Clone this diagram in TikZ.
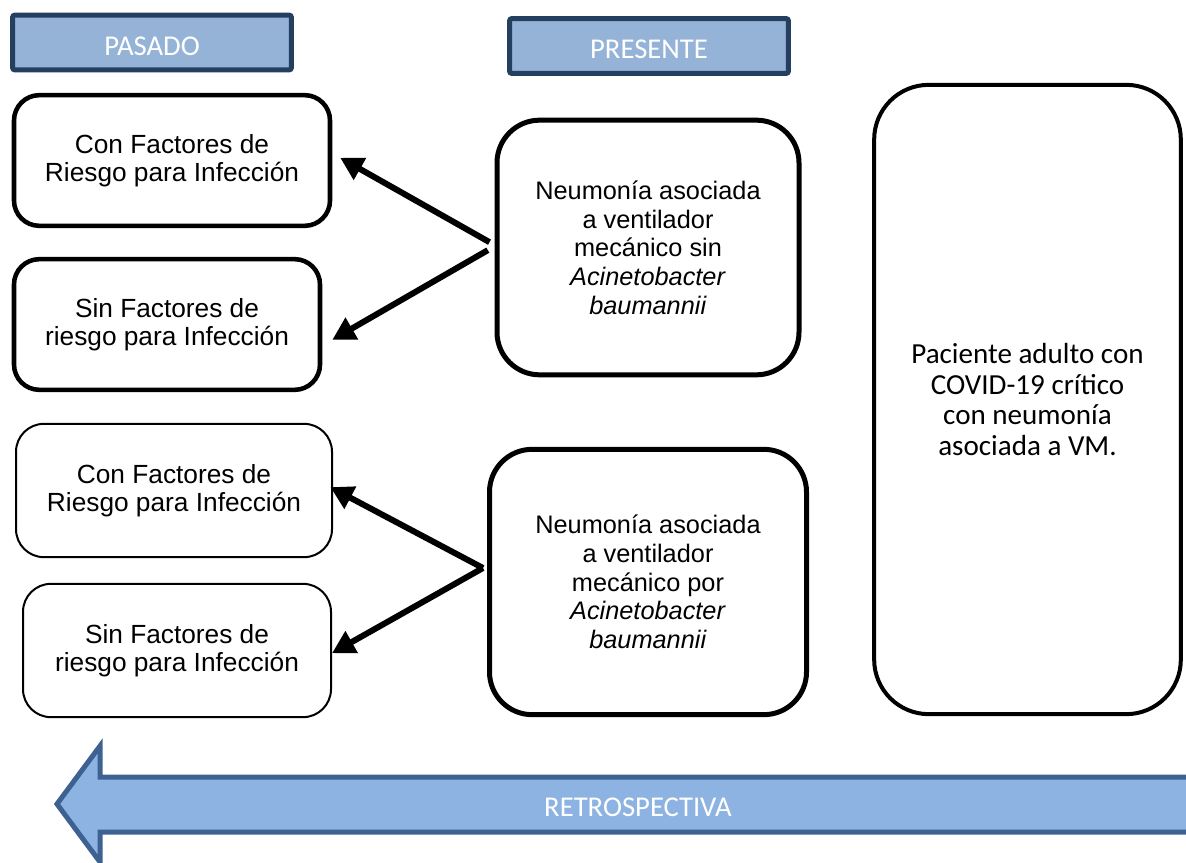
\documentclass[tikz,border=0pt]{standalone}
\usepackage{fontspec}
\setmainfont{Liberation Sans}
\newfontfamily\calibri{Carlito}
\usetikzlibrary{arrows.meta}
\definecolor{azulcab}{HTML}{95B3D7}
\definecolor{bordecab}{HTML}{243F60}
\definecolor{azulflecha}{HTML}{8DB3E2}
\definecolor{bordeflecha}{HTML}{3D6191}
\tikzset{
  cab/.style={draw=bordecab, line width=3.75pt, fill=azulcab, rounded corners=1.5pt,
    inner sep=0pt, minimum width=209pt, minimum height=41pt, text=white,
    text height=19pt, font=\calibri\fontsize{21.5}{24}\selectfont},
  caja/.style={draw, rounded corners=19pt, line width=3.4pt, inner sep=0pt,
    align=center, font=\fontsize{19.7}{21}\selectfont},
  cajafina/.style={caja, line width=1.5pt, rounded corners=21pt},
  cajamed/.style={caja, line width=3.75pt, rounded corners=32pt,
    font=\fontsize{19}{21.5}\selectfont},
  flecha/.style={line width=4.5pt, -{Triangle[length=17pt,width=18pt]}},
}
\begin{document}
\begin{tikzpicture}[x=0.75pt,y=-0.75pt]
\useasboundingbox (0,0) rectangle (1186,863);
% Headers
\node[cab] (pasado) at (152,42.5) {PASADO};
\node[cab] (presente) at (649,46) {PRESENTE};
% Left column: risk factors
\node[caja, minimum width=237pt, minimum height=98pt] (cfr1) at (172,160.5)
  {Con Factores de\\Riesgo para Infección};
\node[caja, minimum width=229.5pt, minimum height=98pt] (sfr1) at (167,324.5)
  {Sin Factores de\\riesgo para Infección};
\node[cajafina, minimum width=237pt, minimum height=100pt] (cfr2) at (174,490.5)
  {Con Factores de\\Riesgo para Infección};
\node[cajafina, minimum width=231pt, minimum height=100pt] (sfr2) at (177,650.5)
  {Sin Factores de\\riesgo para Infección};
% Middle column: pneumonia
\node[cajamed, minimum width=226.5pt, minimum height=191pt] (navm1) at (648,247.5)
  {Neumonía asociada\\a ventilador\\mecánico sin\\\textit{Acinetobacter}\\\textit{baumannii}};
\node[cajamed, minimum width=237.75pt, minimum height=199pt] (navm2) at (648,582)
  {Neumonía asociada\\a ventilador\\mecánico por\\\textit{Acinetobacter}\\\textit{baumannii}};
% Right column: patient
\node[caja, line width=3pt, rounded corners=41pt, minimum width=230pt, minimum height=472pt,
  font=\calibri\fontsize{21.8}{23}\selectfont] (pac) at (1027.5,399.5)
  {Paciente adulto con\\COVID-19 crítico\\con neumonía\\asociada a VM.};
% Arrows back in time
\draw[flecha] ([xshift=-3.75pt,yshift=4pt]navm1.west) -- ([xshift=6pt,yshift=2pt]cfr1.east);
\draw[flecha] ([xshift=-5pt,yshift=-2pt]navm1.west) -- ([xshift=7.5pt,yshift=-11.5pt]sfr1.east);
\draw[flecha] ([xshift=-3pt,yshift=10.5pt]navm2.west) -- ([xshift=-2pt,yshift=2.5pt]cfr2.east);
\draw[flecha] ([xshift=-3pt,yshift=10.5pt]navm2.west) -- ([yshift=-2pt]sfr2.east);
% Big timeline arrow
\draw[draw=bordeflecha, fill=azulflecha, line width=3.75pt, line join=miter]
  (1195,777) -- (100,777) -- (100,746) -- (57,804) -- (100,862) -- (100,832) -- (1195,832);
\node[text=white, font=\calibri\fontsize{21.5}{24}\selectfont] (retro) at (638,807) {RETROSPECTIVA};
\end{tikzpicture}
\end{document}
